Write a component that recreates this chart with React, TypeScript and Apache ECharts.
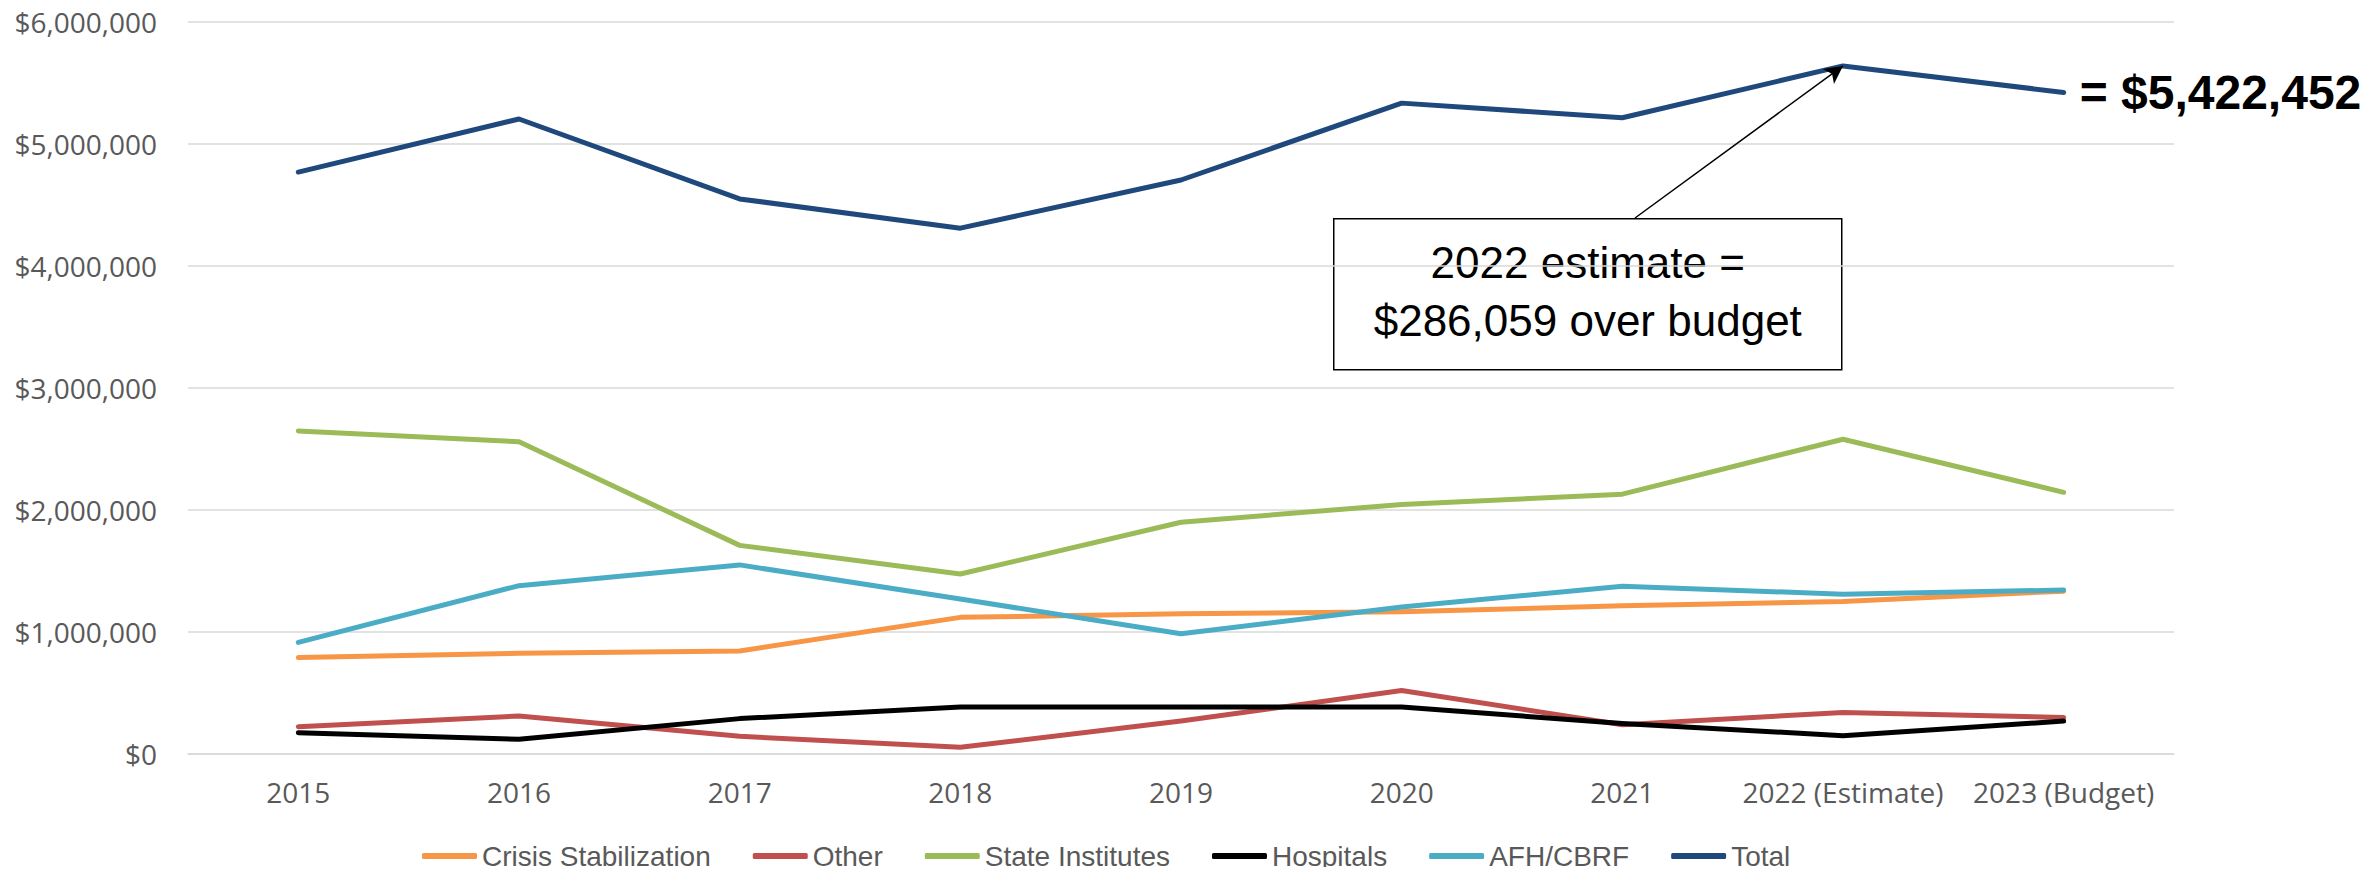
import React, { useEffect, useRef } from "react";
import * as echarts from "echarts";

const categories = ["2015", "2016", "2017", "2018", "2019", "2020", "2021", "2022 (Estimate)", "2023 (Budget)"];
const crisisStabilization = [790000, 825000, 845000, 1120000, 1150000, 1165000, 1215000, 1250000, 1335000];
const other = [224000, 311000, 145000, 55000, 270000, 520000, 240000, 340000, 300000];
const stateInstitutes = [2648000, 2560000, 1710000, 1475000, 1900000, 2045000, 2130000, 2580000, 2145000];
const hospitals = [175000, 120000, 290000, 385000, 385000, 385000, 250000, 150000, 270000];
const afhCbrf = [915000, 1380000, 1550000, 1270000, 985000, 1205000, 1375000, 1310000, 1344000];
const total = [4770000, 5205000, 4550000, 4310000, 4705000, 5335000, 5215000, 5640000, 5422452];
const yTicks = [0, 1000000, 2000000, 3000000, 4000000, 5000000, 6000000];
const annotationLines = ["2022 estimate =", "$286,059 over budget"];

const seriesDefs = [
  { name: "Crisis Stabilization", data: crisisStabilization, color: "#F79646" },
  { name: "Other", data: other, color: "#C0504D" },
  { name: "State Institutes", data: stateInstitutes, color: "#9BBB59" },
  { name: "Hospitals", data: hospitals, color: "#000000" },
  { name: "AFH/CBRF", data: afhCbrf, color: "#4BACC6" },
  { name: "Total", data: total, color: "#1F497D" },
];

const money = (v: number) => "$" + Math.round(v).toLocaleString("en-US");
const LIB = "'Liberation Sans', Arial, sans-serif";
const SANS = "'Open Sans', 'Noto Sans', sans-serif";

export default function App() {
  const ref = useRef<HTMLDivElement>(null);
  useEffect(() => {
    if (!ref.current) return;
    const chart = echarts.init(ref.current, undefined, { renderer: "svg" });
    const series: any[] = seriesDefs.map((s) => {
      const base: any = {
        name: s.name,
        type: "line",
        data: s.data,
        symbol: "none",
        lineStyle: { color: s.color, width: 5, cap: "round", join: "round" },
        itemStyle: { color: s.color },
        emphasis: { disabled: true },
      };
      if (s.name === "Total") {
        base.endLabel = {
          show: true,
          formatter: (p: any) => "= " + money(p.value),
          fontSize: 48,
          fontWeight: "bold",
          fontFamily: LIB,
          color: "#000",
          distance: 16,
        };
        base.markLine = {
          silent: true,
          symbol: ["none", "arrow"],
          symbolSize: [14, 18],
          label: { show: false },
          lineStyle: { color: "#000", width: 1.5, type: "solid" },
          emphasis: { disabled: true },
          data: [
            [
              { x: 1635, y: 218 },
              { coord: [categories[7], total[7]] },
            ],
          ],
        };
      }
      return base;
    });
    chart.setOption({
      animation: false,
      backgroundColor: "#fff",
      grid: { left: 188, right: 198, top: 22, bottom: 121, containLabel: false },
      legend: {
        data: seriesDefs.map((s) => s.name),
        left: 417,
        top: 837,
        icon: "roundRect",
        itemWidth: 55,
        itemHeight: 6,
        itemGap: 42,
        textStyle: { fontSize: 28, color: "#595959", fontFamily: LIB },
      },
      xAxis: {
        type: "category",
        data: categories,
        boundaryGap: true,
        axisLine: { show: true, lineStyle: { color: "#D9D9D9", width: 1.5 } },
        axisTick: { show: false },
        axisLabel: { fontSize: 28, color: "#595959", fontFamily: SANS, margin: 24, interval: 0 },
      },
      yAxis: {
        type: "value",
        min: yTicks[0],
        max: yTicks[yTicks.length - 1],
        interval: yTicks[1] - yTicks[0],
        axisLine: { show: false },
        axisTick: { show: false },
        splitLine: { lineStyle: { color: "#D9D9D9", width: 1.5 } },
        axisLabel: { fontSize: 28, color: "#595959", fontFamily: SANS, margin: 31, formatter: (v: number) => money(v) },
      },
      graphic: [
        {
          type: "group",
          left: 1333,
          top: 218,
          children: [
            {
              type: "rect",
              shape: { x: 0, y: 0, width: 508, height: 151 },
              style: { fill: "#fff", stroke: "#000", lineWidth: 1.5 },
            },
            {
              type: "text",
              x: 254,
              y: 44,
              style: {
                text: annotationLines[0],
                fontSize: 44,
                fontFamily: LIB,
                fill: "#000",
                align: "center",
                verticalAlign: "middle",
              },
            },
            {
              type: "text",
              x: 254,
              y: 102,
              style: {
                text: annotationLines[1],
                fontSize: 44,
                fontFamily: LIB,
                fill: "#000",
                align: "center",
                verticalAlign: "middle",
              },
            },
          ],
        },
      ],
      series,
    });
    return () => chart.dispose();
  }, []);
  return <div ref={ref} style={{ width: 2372, height: 875, margin: -8 }} />;
}
